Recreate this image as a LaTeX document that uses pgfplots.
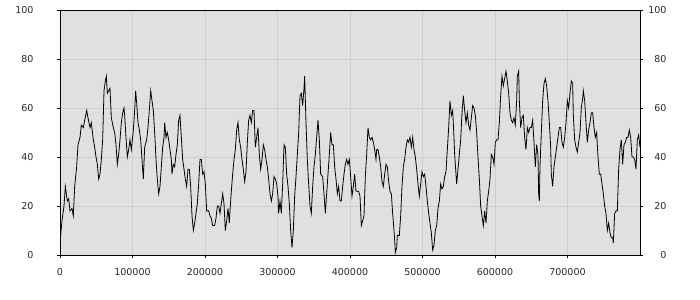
\documentclass[border=0pt]{standalone}
\usepackage{fontspec}
\setmainfont{DejaVu Sans}
\usepackage{pgfplots}
\pgfplotsset{compat=1.18}
\definecolor{bg}{RGB}{224,224,224}
\definecolor{gridc}{RGB}{206,206,206}
\definecolor{lbl}{RGB}{40,40,40}
\begin{document}
\begin{tikzpicture}
\useasboundingbox (-60bp,-45bp) rectangle (640bp,255bp);
\begin{axis}[
 at={(0,0)}, anchor=south west,
 scale only axis, width=580bp, height=245bp,
 xmin=0, xmax=800000, ymin=0, ymax=100,
 xtick={0,100000,200000,300000,400000,500000,600000,700000},
 ytick={0,20,40,60,80,100},
 scaled x ticks=false,
 /pgf/number format/assume math mode=true,
 xticklabel style={/pgf/number format/fixed, /pgf/number format/1000 sep={}},
 tick label style={font=\fontsize{9.5bp}{11bp}\selectfont, text=lbl},
 yticklabel style={anchor=east, xshift=-20bp},
 xticklabel style={yshift=-7bp},
 axis background/.style={fill=bg},
 grid=major, major grid style={gridc, line width=0.8bp},
 tick align=outside, major tick length=3bp,
 xtick pos=bottom, ytick pos=left,
 tick style={black, line width=0.8bp},
 axis line style={black, line width=0.8bp},
]
\addplot[black, line width=0.8bp, mark=none] coordinates {
(0,5) (920,8) (2760,14) (5520,20) (7360,28) (10110,22) (11950,23) (13790,18) (16550,19) (18390,16) (20230,28) (22990,36) (24830,45) (27590,48) (29430,53) (32180,52) (34020,55) (36780,59) (38620,56) (41380,52) (43220,54) (45980,47) (47820,44) (49660,40) (51500,37) (53340,31) (55170,33) (57010,39) (58850,47) (60690,67) (62530,71) (63910,73) (65290,66) (67130,67) (68970,68) (70800,56) (73560,52) (75400,50) (77240,45) (79080,37) (80920,41) (82760,47) (84600,54) (86440,58) (88280,60) (89200,57) (91030,48) (92870,40) (94710,43) (96550,47) (98390,43) (101150,51) (102990,59) (104360,67) (105740,62) (107590,54) (109430,51) (111260,47) (113100,39) (114940,31) (116780,44) (119540,47) (121380,52) (123220,59) (125060,67) (126900,63) (128740,59) (130570,50)
(132410,39) (134250,31) (136090,25) (137930,28) (139770,36) (141610,44) (143450,48) (144370,54) (146210,48) (148050,50) (149890,47) (151720,43) (153560,39) (154480,33) (156320,37) (158160,36) (160000,41) (161840,45) (163680,55) (165520,57) (167360,48) (169200,39) (171030,35) (172870,31) (174710,28) (176550,35) (178390,35) (180230,28) (182070,16) (183910,10) (185750,13) (187590,17) (189430,21) (191260,29) (193100,39) (194940,39) (196780,33) (198620,34) (200460,29) (202300,18) (205060,18) (206900,16) (208740,15) (210580,12) (213330,12) (215170,15) (217010,20) (218850,20) (220690,17) (222530,21) (224370,25) (226210,21) (228050,10) (229890,14) (231730,19) (233560,13) (234480,18) (236320,26) (238160,33) (240000,39) (241840,43) (243680,51) (245520,54) (247360,47) (249200,44) (251040,39) (252870,35) (254710,30) (256550,34) (258390,46) (260230,55) (262070,57) (263910,54) (265750,59)
(267590,59) (269430,44) (271260,48) (273100,52) (274940,41) (276780,35) (278620,39) (280460,45) (282300,43) (284140,39) (285980,36) (287820,31) (289660,25) (291490,22) (293330,25) (295170,32) (297010,31) (298850,29) (300690,24) (301610,17) (303450,22) (305290,17) (307130,29) (308960,45) (310800,44) (312640,33) (314480,28) (316320,21) (318160,10) (320000,3) (321840,10) (323680,24) (325520,32) (327360,41) (329200,50) (331030,65) (332870,66) (334710,61) (336550,68) (337470,73) (339310,54) (341150,39) (342990,29) (344830,20) (346670,17) (348510,28) (350340,36) (352180,41) (354020,48) (355860,55) (357700,47) (359540,33) (362300,32) (364140,25) (365980,17) (367820,25) (369660,33) (371490,41) (373330,50) (375170,45) (377010,45) (378850,36) (380690,31) (382530,25) (384370,28) (386210,22) (388050,22) (389890,28) (391720,33) (393560,37) (395400,39) (397240,37) (399080,39) (400920,32)
(402760,24) (404600,28) (406440,33) (408280,26) (410120,26) (411950,26) (413790,24) (415630,12) (417470,14) (419310,16) (421150,32) (422990,41) (424830,52) (426670,48) (428510,47) (430350,48) (432180,46) (434020,43) (435860,39) (436780,43) (438620,43) (440460,40) (442300,36) (444140,30) (445980,28) (447820,33) (449660,37) (451490,36) (453330,30) (455170,26) (457010,25) (458850,17) (460690,10) (461610,6) (462530,1) (464370,3) (465290,8) (468050,8) (469890,16) (471720,28) (473560,36) (475400,39) (477240,44) (479080,47) (480920,46) (482760,48) (484600,44) (486440,48) (488280,43) (490120,40) (491960,35) (493790,29) (495630,24) (497470,29) (499310,34) (501150,32) (502990,33) (504830,28) (506670,22) (508510,17) (510350,13) (512190,9) (514020,2) (515860,4) (517700,10) (519540,12) (521380,19) (523220,22) (525060,29) (526900,27) (528740,28) (530570,32) (532410,34) (534250,43) (536090,52)
(537930,63) (539770,57) (541610,59) (543450,48) (544370,41) (546210,33) (547130,29) (548970,35) (550800,41) (552640,47) (554480,58) (556320,65) (558160,59) (560000,54) (561840,58) (563680,53) (565520,51) (567360,56) (569190,61) (571030,60) (572870,57) (574710,50) (576550,40) (578390,31) (580230,20) (582070,16) (583910,12) (585750,18) (587590,13) (589420,22) (591260,26) (593100,31) (594940,41) (596780,40) (598620,37) (600460,46) (602300,47) (604140,47) (605980,54) (607820,65) (609650,73) (611490,69) (613330,72) (615170,75) (617010,71) (618850,66) (620690,58) (622530,55) (624370,54) (626210,56) (628040,53) (629880,63) (630800,73) (632640,75) (633560,63) (635400,52) (637240,56) (639080,57) (640920,48) (642760,43) (644600,52) (646430,50) (648270,52) (650110,52) (651950,55) (653790,46) (655630,36) (657470,45) (659310,41) (660230,25) (661150,22) (662070,36) (663910,50) (665750,63) (667590,70) (669420,72) (671260,69)
(673100,63) (674940,54) (676780,44) (677700,33) (679540,28) (681380,36) (683220,40) (685060,44) (686900,48) (688740,52) (690570,52) (692410,46) (694250,44) (696090,48) (697930,54) (699770,63) (701610,60) (703450,66) (705290,71) (707130,70) (708050,57) (709890,47) (711720,44) (713560,42) (715400,46) (717240,50) (719080,60) (720920,64) (721840,67) (723680,63) (725520,54) (727360,46) (729200,51) (731030,54) (732870,58) (734710,58) (736550,52) (738390,48) (740230,50) (742070,40) (743910,33) (745750,33) (747590,29) (749420,25) (751260,20) (753100,17) (754940,10) (756780,13) (758620,9) (760460,7) (762300,7) (763220,5) (765060,17) (766900,18) (768740,18) (770570,35) (772410,43) (774250,47) (776090,37) (777930,45) (779770,46) (781610,48) (783450,48) (785290,51) (787130,48) (788970,40) (790800,40) (792640,39) (794480,35) (796320,47) (798160,49) (800000,44)
};
\end{axis}
\begin{axis}[
 at={(0,0)}, anchor=south west,
 scale only axis, width=580bp, height=245bp,
 xmin=0, xmax=800000, ymin=0, ymax=100,
 hide x axis, axis y line*=right,
 ytick={0,20,40,60,80,100},
 /pgf/number format/assume math mode=true,
 tick label style={font=\fontsize{9.5bp}{11bp}\selectfont, text=lbl},
 yticklabel style={anchor=east, xshift=27bp},
 tick align=outside, major tick length=3bp,
 tick style={black, line width=0.8bp},
 axis line style={black, line width=0.8bp},
]
\end{axis}
\end{tikzpicture}
\end{document}
